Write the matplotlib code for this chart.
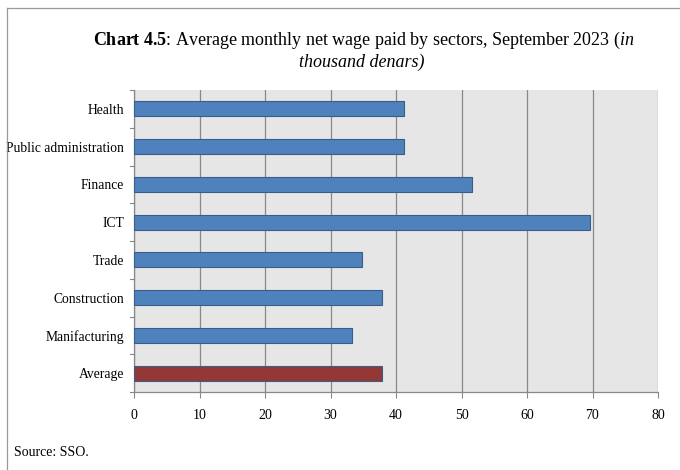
import matplotlib.pyplot as plt
from matplotlib.lines import Line2D

# data (thousand denars), top to bottom as in the chart
sectors = ['Health', 'Public administration', 'Finance', 'ICT', 'Trade',
           'Construction', 'Manifacturing', 'Average']
wages = [41.2, 41.2, 51.6, 69.6, 34.8, 37.8, 33.3, 37.9]
colors = ['#4F81BD'] * 7 + ['#953735']
xticks = [0, 10, 20, 30, 40, 50, 60, 70, 80]

plt.rcParams['font.family'] = ['Liberation Serif', 'DejaVu Serif']
plt.rcParams['mathtext.fontset'] = 'custom'
plt.rcParams['mathtext.rm'] = 'Liberation Serif'
plt.rcParams['mathtext.bf'] = 'Liberation Serif:bold'
plt.rcParams['mathtext.it'] = 'Liberation Serif:italic'

fig = plt.figure(figsize=(6.8, 4.7), dpi=100)
ax = fig.add_axes([134 / 680, 1 - 392 / 470, 524 / 680, 302 / 470])

ypos = list(range(len(sectors)))[::-1]
ax.barh(ypos, wages, height=0.4, color=colors, edgecolor='#385D8A',
        linewidth=0.8, zorder=3)

ax.set_xlim(0, 80)
ax.set_ylim(-0.5, len(sectors) - 0.5)
ax.set_xticks(xticks)
ax.set_xticklabels([str(t) for t in xticks], fontsize=10)
ax.set_yticks(ypos)
ax.set_yticklabels(sectors, fontsize=9.8)
ax.tick_params(axis='y', length=0, pad=7)
ax.tick_params(axis='x', length=4, color='#888888', pad=8)

# category boundary ticks on y axis
for b in [i - 0.5 for i in range(len(sectors) + 1)]:
    ax.plot([-0.008, 0], [b, b], transform=ax.get_yaxis_transform(),
            color='#888888', lw=0.8, clip_on=False)

ax.set_facecolor('#E6E6E6')
ax.grid(axis='x', color='#888888', lw=0.9, zorder=0)
for s in ['top', 'right']:
    ax.spines[s].set_visible(False)
for s in ['left', 'bottom']:
    ax.spines[s].set_color('#888888')
    ax.spines[s].set_linewidth(0.9)

fig.text(364 / 680, 1 - 40 / 470,
         r'$\mathbf{Chart\ 4.5}$: Average monthly net wage paid by sectors, September 2023 $\mathit{(in}$',
         ha='center', va='center', fontsize=13)
fig.text(362 / 680, 1 - 62 / 470, 'thousand denars)', style='italic',
         ha='center', va='center', fontsize=13)
fig.text(14 / 680, 1 - 453 / 470, 'Source: SSO.', ha='left', va='center',
         fontsize=10)

# frame lines at top and left of the figure
fig.add_artist(Line2D([7 / 680, 1], [1 - 8 / 470, 1 - 8 / 470],
                      color='#999999', lw=0.9))
fig.add_artist(Line2D([7 / 680, 7 / 680], [0, 1 - 8 / 470],
                      color='#999999', lw=0.9))

fig.savefig('out.png', dpi=100)
